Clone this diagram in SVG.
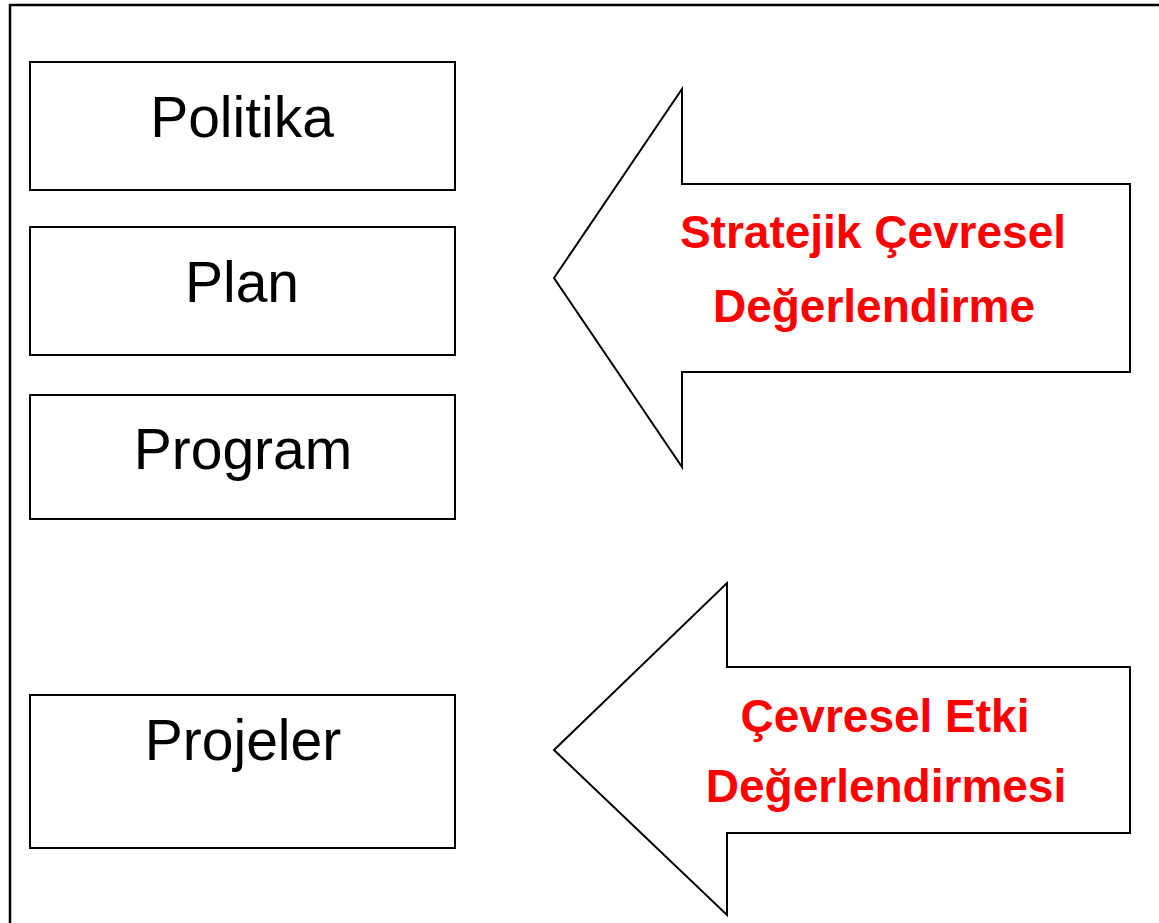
<svg xmlns="http://www.w3.org/2000/svg" width="1159" height="923" viewBox="0 0 1159 923">
<style>
.box{fill:#fff;stroke:#000;stroke-width:2}
.arrow{fill:#fff;stroke:#000;stroke-width:2;stroke-linejoin:miter}
.lbl{font-family:"Liberation Sans",Arial,sans-serif;font-size:57px;fill:#000;text-anchor:middle}
.red{font-family:"Liberation Sans",Arial,sans-serif;font-size:46px;font-weight:bold;fill:#ff0000;text-anchor:middle}
</style>
<rect width="1159" height="923" fill="#fff"/>
<path d="M10,923 V5 H1159" fill="none" stroke="#000" stroke-width="2.5"/>
<g id="politika"><rect class="box" x="30" y="62" width="425" height="128"/><text class="lbl" x="242" y="137">Politika</text></g>
<g id="plan"><rect class="box" x="30" y="227" width="425" height="128"/><text class="lbl" x="242" y="302">Plan</text></g>
<g id="program"><rect class="box" x="30" y="395" width="425" height="124"/><text class="lbl" x="243" y="469">Program</text></g>
<g id="projeler"><rect class="box" x="30" y="695" width="425" height="153"/><text class="lbl" x="243" y="760">Projeler</text></g>
<g id="connectors">
<g id="sced"><polygon class="arrow" points="554,278 682,89 682,184 1130,184 1130,372 682,372 682,467"/>
<text class="red" x="873" y="248">Stratejik Çevresel</text><text class="red" x="874" y="322">Değerlendirme</text></g>
<g id="ced"><polygon class="arrow" points="554,750 727,583 727,667 1130,667 1130,833 727,833 727,915"/>
<text class="red" x="885" y="732">Çevresel Etki</text><text class="red" x="886" y="802">Değerlendirmesi</text></g>
</g>
</svg>
